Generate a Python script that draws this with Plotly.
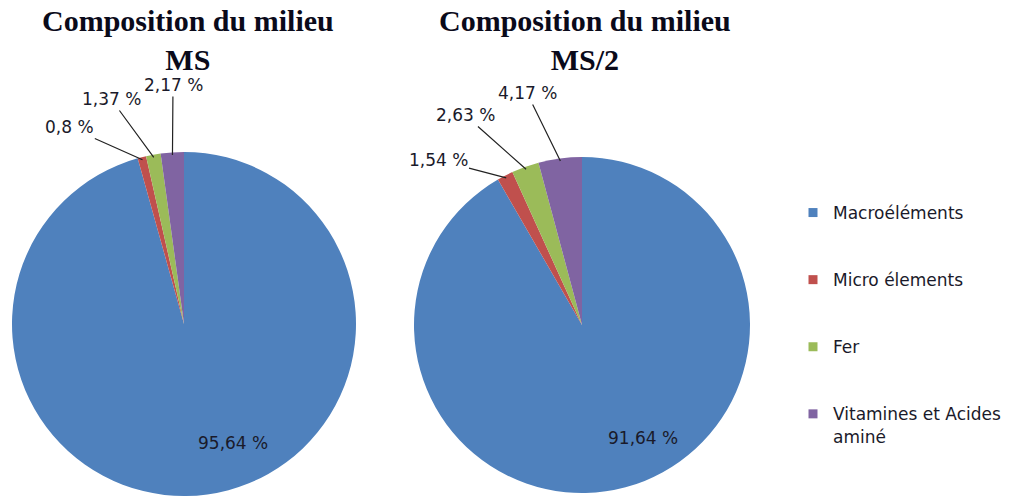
import math
import plotly.graph_objects as go

# Composition of two culture media (MS and MS/2), share of each component in %
components = ["Macroéléments", "Micro élements", "Fer", "Vitamines et Acides<br>aminé"]
ms_values = [95.64, 0.8, 1.37, 2.17]
ms2_values = [91.64, 1.54, 2.63, 4.17]
titles = ["Composition du milieu<br>MS", "Composition du milieu<br>MS/2"]

colors = ["#4F81BD", "#C0504D", "#9BBB59", "#8064A2"]

W, H = 1016, 496

# Pie geometry in pixels (x-left, x-right, y-top, y-bottom)
pie_boxes = [(12, 356, 152, 496), (414, 750, 157, 493)]
title_x = [188, 585]

# Where each value label sits (pixel centres); the big slice label has no leader line
label_pos = [
    [(233, 443), (69, 127), (111, 99), (173, 85)],
    [(643, 438), (438, 160), (465, 115), (527, 93)],
]

LABEL_FONT = dict(family="DejaVu Sans", size=17, color="#1a1a2a")


def fmt(v):
    return f"{v:g}".replace(".", ",") + " %"


fig = go.Figure()
annotations = []

for k, (vals, box) in enumerate(zip([ms_values, ms2_values], pie_boxes)):
    x0, x1, y0, y1 = box
    fig.add_trace(go.Pie(
        labels=components,
        values=vals,
        sort=False,
        direction="clockwise",
        rotation=0,
        textinfo="none",
        marker=dict(colors=colors, line=dict(width=0)),
        domain=dict(x=[x0 / W, x1 / W], y=[1 - y1 / H, 1 - y0 / H]),
        showlegend=False,
        hoverinfo="label+percent",
    ))

    cx, cy = (x0 + x1) / 2, (y0 + y1) / 2
    r = min(x1 - x0, y1 - y0) / 2
    total = sum(vals)
    start = 0.0
    for i, v in enumerate(vals):
        mid = (start + v / 2) / total * 2 * math.pi
        start += v
        lx, ly = label_pos[k][i]
        text = fmt(v)
        if i == 0:
            annotations.append(dict(
                x=lx / W, y=1 - ly / H, xref="paper", yref="paper",
                xanchor="center", yanchor="middle",
                text=text, showarrow=False, font=LABEL_FONT,
            ))
        else:
            px = cx + 0.985 * r * math.sin(mid)
            py = cy - 0.985 * r * math.cos(mid)
            annotations.append(dict(
                x=px / W, y=1 - py / H, xref="paper", yref="paper",
                text=text, showarrow=True, arrowhead=0, arrowwidth=1.2,
                arrowcolor="#222222", standoff=0, startstandoff=0,
                ax=lx - px, ay=ly - py, font=LABEL_FONT,
            ))

    annotations.append(dict(
        x=title_x[k] / W, y=1 - 40 / H, xref="paper", yref="paper",
        text="<b>" + titles[k] + "</b>", showarrow=False,
        xanchor="center", yanchor="middle",
        font=dict(family="Liberation Serif", size=30, color="#0a0a1a"),
    ))

# Legend entries, one group each so the vertical spacing can be set
for name, col in zip(components, colors):
    fig.add_trace(go.Scatter(
        x=[None], y=[None], mode="markers", name=name,
        legendgroup=name,
        marker=dict(symbol="square", size=9, color=col),
        hoverinfo="skip",
    ))

fig.update_layout(
    width=W, height=H,
    margin=dict(l=0, r=0, t=0, b=0),
    paper_bgcolor="white",
    plot_bgcolor="white",
    xaxis=dict(visible=False),
    yaxis=dict(visible=False),
    annotations=annotations,
    legend=dict(
        x=793 / W, y=1 - 195 / H, xanchor="left", yanchor="top",
        tracegroupgap=42, valign="top",
        font=LABEL_FONT,
        bgcolor="rgba(0,0,0,0)",
    ),
    showlegend=True,
)

fig.write_html("out.html")
